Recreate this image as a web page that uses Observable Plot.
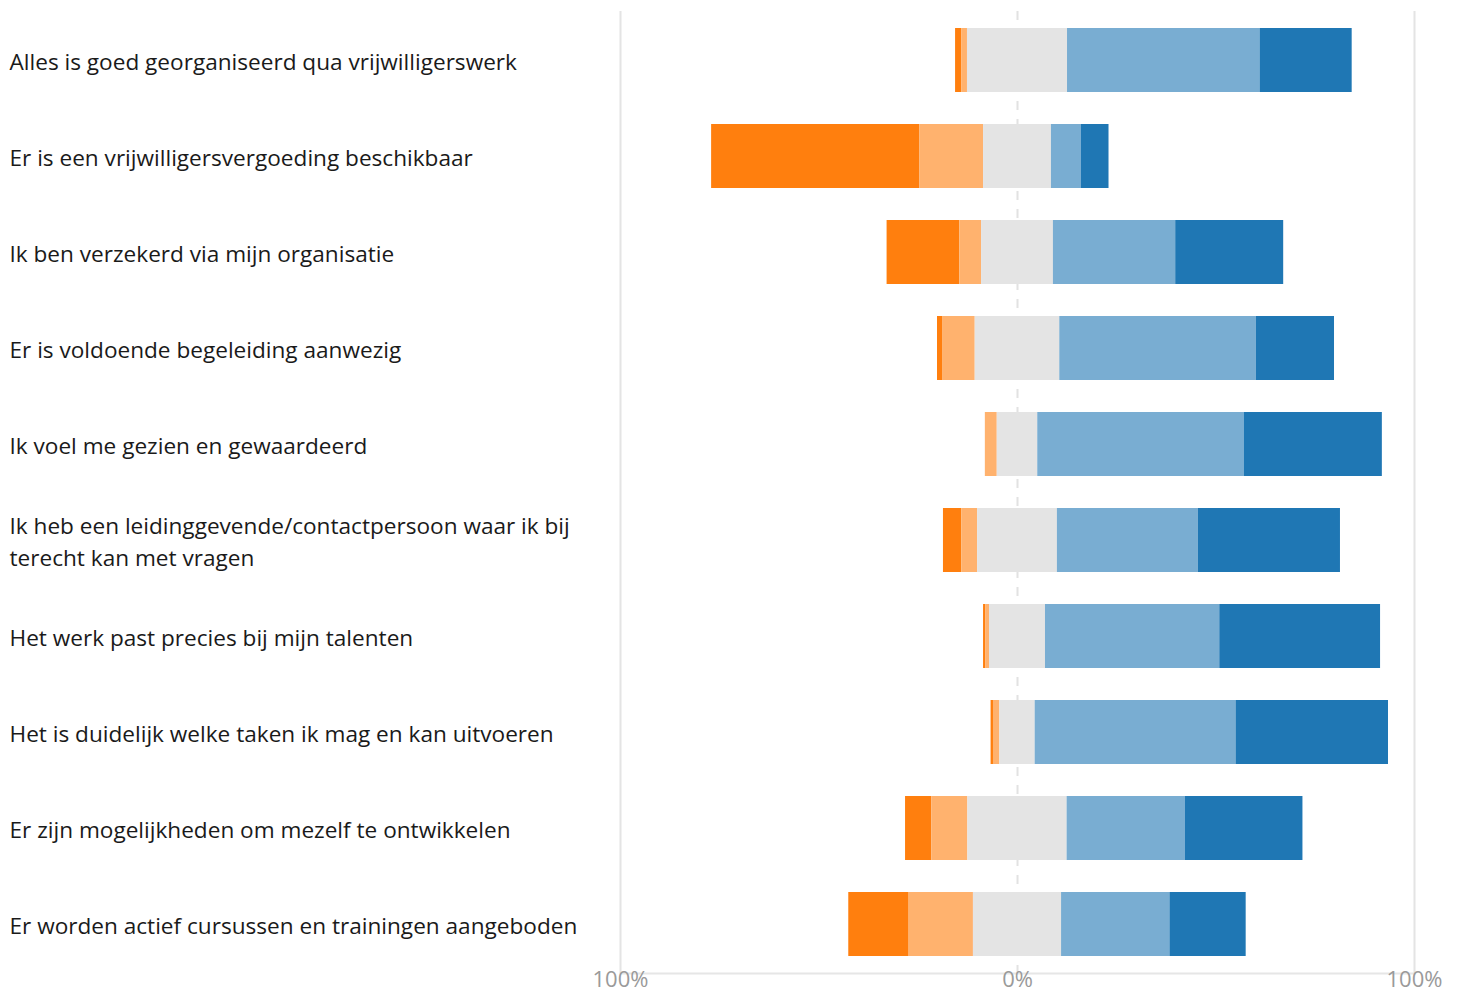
<!DOCTYPE html>
<html>
<head>
<meta charset="utf-8">
<script src="https://cdn.jsdelivr.net/npm/d3@7"></script>
<script src="https://cdn.jsdelivr.net/npm/@observablehq/plot@0.6"></script>
<style>
  html, body { margin: 0; padding: 0; background: #fff; }
  #chart { width: 1460px; height: 994px; }
</style>
</head>
<body>
<div id="chart"></div>
<script>
const categories = [
  "Alles is goed georganiseerd qua vrijwilligerswerk",
  "Er is een vrijwilligersvergoeding beschikbaar",
  "Ik ben verzekerd via mijn organisatie",
  "Er is voldoende begeleiding aanwezig",
  "Ik voel me gezien en gewaardeerd",
  "Ik heb een leidinggevende/contactpersoon waar ik bij terecht kan met vragen",
  "Het werk past precies bij mijn talenten",
  "Het is duidelijk welke taken ik mag en kan uitvoeren",
  "Er zijn mogelijkheden om mezelf te ontwikkelen",
  "Er worden actief cursussen en trainingen aangeboden"
];
const displayLabels = [
  "Alles is goed georganiseerd qua vrijwilligerswerk",
  "Er is een vrijwilligersvergoeding beschikbaar",
  "Ik ben verzekerd via mijn organisatie",
  "Er is voldoende begeleiding aanwezig",
  "Ik voel me gezien en gewaardeerd",
  "Ik heb een leidinggevende/contactpersoon waar ik bij\nterecht kan met vragen",
  "Het werk past precies bij mijn talenten",
  "Het is duidelijk welke taken ik mag en kan uitvoeren",
  "Er zijn mogelijkheden om mezelf te ontwikkelen",
  "Er worden actief cursussen en trainingen aangeboden"
];

const responses = ["Helemaal oneens", "Oneens", "Neutraal", "Eens", "Helemaal eens"];
const responseColors = ["#ff7f0e", "#ffb26e", "#e4e4e4", "#79add2", "#1f77b4"];

// percentages per statement
const stronglyDisagree = [1.6, 52.4, 18.3, 1.4, 0.0, 4.6, 0.6, 0.6, 6.6, 15.2];
const disagree         = [1.4, 16.1,  5.5, 8.1, 3.0, 4.0, 0.9, 1.6, 9.1, 16.2];
const neutral          = [25.2, 17.1, 18.1, 21.3, 10.2, 20.1, 14.1, 8.9, 25.0, 22.2];
const agree            = [48.5,  7.5, 30.8, 49.5, 52.0, 35.5, 43.9, 50.6, 29.8, 27.3];
const stronglyAgree    = [23.2,  7.0, 27.2, 19.7, 34.8, 35.8, 40.5, 38.4, 29.6, 19.2];

const xTicks = [-100, 0, 100];

// diverging layout: neutral centred on zero
const rows = [];
categories.forEach((item, i) => {
  const vals = [stronglyDisagree[i], disagree[i], neutral[i], agree[i], stronglyAgree[i]];
  let start = -(vals[0] + vals[1] + vals[2] / 2);
  vals.forEach((v, j) => {
    rows.push({item, response: responses[j], x1: start, x2: start + v});
    start += v;
  });
});

const chart = Plot.plot({
  width: 1460,
  height: 994,
  marginLeft: 620,
  marginRight: 46,
  marginTop: 11,
  marginBottom: 21,
  style: {fontFamily: "'Open Sans', sans-serif", overflow: "visible", background: "#fff"},
  x: {domain: [-100, 100]},
  y: {domain: categories, padding: 0, axis: null},
  color: {domain: responses, range: responseColors},
  marks: [
    Plot.ruleX([-100, 100], {stroke: "#e4e4e4", strokeWidth: 2}),
    Plot.ruleX([0], {stroke: "#e2e2e2", strokeWidth: 2, strokeDasharray: "9,9"}),
    Plot.frame({anchor: "bottom", stroke: "#e6e6e6", strokeWidth: 2}),
    Plot.barX(rows, {y: "item", x1: "x1", x2: "x2", fill: "response", insetTop: 16, insetBottom: 16}),
    Plot.text(categories, {
      y: d => d,
      text: (d, i) => displayLabels[i],
      frameAnchor: "left",
      textAnchor: "start",
      dx: -611,
      dy: -1,
      fontSize: 22.6,
      lineHeight: 32 / 22.6,
      fill: "#1a1a1a"
    }),
    Plot.axisX({
      ticks: xTicks,
      tickSize: 0,
      tickPadding: -2,
      fontSize: 22,
      color: "#9a9a9a",
      tickFormat: d => Math.abs(d) + "%",
      label: null
    })
  ]
});
document.getElementById("chart").appendChild(chart);
</script>
</body>
</html>
